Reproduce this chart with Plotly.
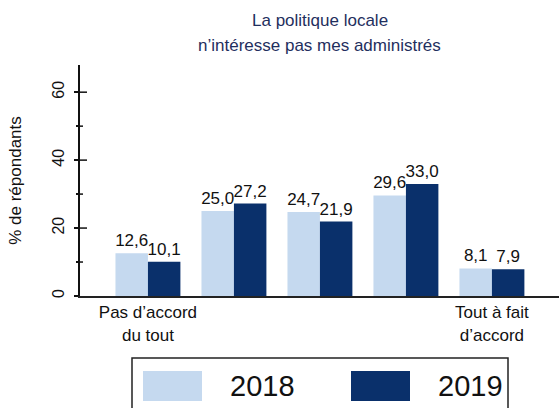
import plotly.graph_objects as go

# Survey answers, share of respondents (%)
categories = ["Pas d’accord<br>du tout", "", "", "", "Tout à fait<br>d’accord"]
values_2018 = [12.6, 25.0, 24.7, 29.6, 8.1]
values_2019 = [10.1, 27.2, 21.9, 33.0, 7.9]
series_names = ["2018", "2019"]
colors = ["#c5d9ef", "#0a306b"]
y_ticks = [0, 20, 40, 60]
y_minor_ticks = [10, 30, 50]

W, H = 559, 408
ML, MR, MT, MB = 80, 0, 65, 112
PW, PH = W - ML - MR, H - MT - MB

FONT = "Liberation Sans, Arial, sans-serif"

x_pos = list(range(len(categories)))

fig = go.Figure()
for name, vals, col in zip(series_names, [values_2018, values_2019], colors):
    fig.add_trace(go.Bar(
        x=x_pos, y=vals, name=name, marker=dict(color=col, line=dict(width=0)),
        texttemplate="%{y:.1f}", textposition="outside", textangle=0,
        constraintext="none", cliponaxis=False,
        textfont=dict(family=FONT, size=17, color="#111111"),
        showlegend=False,
    ))


def px_x(px):
    return (px - ML) / PW


def px_y(py):
    return (H - MB - py) / PH


shapes = []
annotations = []

# Tick marks on the inner side of the value axis
for v in y_ticks[1:]:
    shapes.append(dict(type="line", xref="paper", yref="y", x0=0, x1=px_x(ML + 7),
                       y0=v, y1=v, line=dict(color="#111111", width=1.5)))
for v in y_minor_ticks:
    shapes.append(dict(type="line", xref="paper", yref="y", x0=0, x1=px_x(ML + 3),
                       y0=v, y1=v, line=dict(color="#111111", width=1.5)))

# Legend box with large swatches
shapes.append(dict(type="rect", xref="paper", yref="paper",
                   x0=px_x(132), x1=px_x(508), y0=px_y(415), y1=px_y(358),
                   line=dict(color="#222222", width=1.5), fillcolor="white"))
legend_items = [(143, 202, 228), (351, 410, 436)]
for (sx0, sx1, tx), name, col in zip(legend_items, series_names, colors):
    shapes.append(dict(type="rect", xref="paper", yref="paper",
                       x0=px_x(sx0), x1=px_x(sx1), y0=px_y(401), y1=px_y(371),
                       line=dict(width=0), fillcolor=col))
    annotations.append(dict(xref="paper", yref="paper", x=px_x(tx), y=px_y(386),
                            xanchor="left", yanchor="middle", showarrow=False,
                            text=name, font=dict(family=FONT, size=29, color="#111111")))

# Two-line title
for line, py in [("La politique locale", 20), ("n’intéresse pas mes administrés", 45)]:
    annotations.append(dict(xref="paper", yref="paper", x=0.5, y=px_y(py),
                            xanchor="center", yanchor="middle", showarrow=False,
                            text=line, font=dict(family=FONT, size=17, color="#1f2f5e")))

fig.update_layout(
    width=W, height=H,
    margin=dict(l=ML, r=MR, t=MT, b=MB),
    paper_bgcolor="white", plot_bgcolor="white",
    barmode="group", bargap=0.245, bargroupgap=0,
    separators=", ",
    font=dict(family=FONT, size=17, color="#111111"),
    shapes=shapes, annotations=annotations,
    xaxis=dict(
        range=[-0.79, 4.78], tickvals=x_pos, ticktext=categories,
        showline=True, linecolor="#222222", linewidth=2, ticks="",
        showgrid=False, zeroline=False, tickfont=dict(size=17, family=FONT),
    ),
    yaxis=dict(
        range=[0, 68], tickvals=y_ticks, tickangle=-90,
        showline=True, linecolor="#111111", linewidth=2,
        ticks="outside", ticklen=4, tickwidth=1.5, tickcolor="#111111",
        ticklabelstandoff=4,
        minor=dict(dtick=10, ticks="outside", ticklen=2, tickwidth=1.5, tickcolor="#111111"),
        showgrid=False, zeroline=False, tickfont=dict(size=16, family=FONT),
        title=dict(text="% de répondants", font=dict(size=17, family=FONT), standoff=24),
    ),
)

fig.write_html("out.html")
